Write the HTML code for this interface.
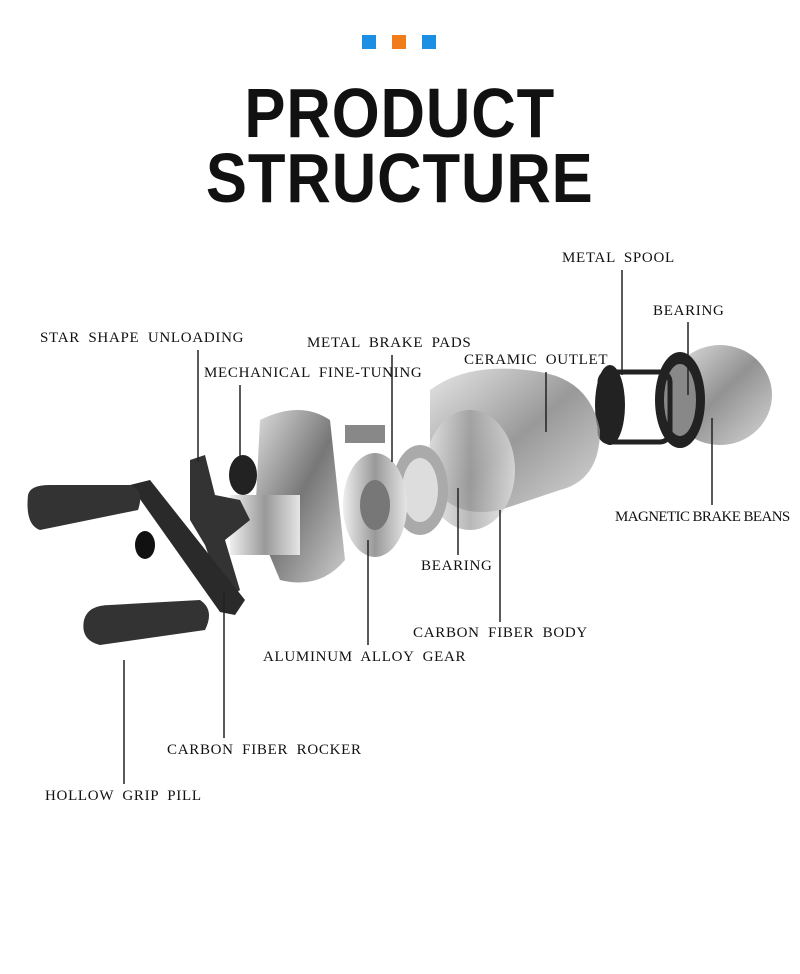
<!DOCTYPE html>
<html><head><meta charset="utf-8"><style>
html,body{margin:0;padding:0;background:#fff;}
#w{position:relative;width:800px;height:974px;overflow:hidden;background:#fff;}
.sq{position:absolute;top:35px;width:14px;height:14px;}
h1{position:absolute;left:0;width:800px;margin:0;text-align:center;font-family:"Liberation Sans",sans-serif;font-weight:bold;font-size:70px;line-height:64px;color:#111;letter-spacing:1px;transform:scaleX(0.88);transform-origin:398px 0;}
.l{position:absolute;font-family:"Liberation Serif",serif;font-size:15px;color:#111;white-space:nowrap;line-height:16px;letter-spacing:0.7px;word-spacing:4px;}
svg{position:absolute;left:0;top:0;}
</style></head><body><div id="w">
<div class="sq" style="left:362px;background:#1a8fe3"></div>
<div class="sq" style="left:392px;background:#f07c1a"></div>
<div class="sq" style="left:422px;background:#1a8fe3"></div>
<h1 style="top:81px">PRODUCT</h1>
<h1 style="top:146px">STRUCTURE</h1>
<svg width="800" height="974">
<defs>
<linearGradient id="g1" x1="0" y1="0" x2="1" y2="1"><stop offset="0" stop-color="#ddd"/><stop offset=".5" stop-color="#777"/><stop offset="1" stop-color="#ccc"/></linearGradient>
<linearGradient id="g2" x1="0" y1="0" x2="1" y2="0"><stop offset="0" stop-color="#eee"/><stop offset=".5" stop-color="#999"/><stop offset="1" stop-color="#e5e5e5"/></linearGradient>
</defs>
<ellipse cx="720" cy="395" rx="52" ry="50" fill="url(#g1)" opacity=".8"/>
<ellipse cx="680" cy="400" rx="25" ry="48" fill="#222"/>
<ellipse cx="680" cy="400" rx="16" ry="36" fill="#888"/>
<rect x="600" y="372" width="70" height="70" rx="10" fill="none" stroke="#222" stroke-width="5"/>
<ellipse cx="610" cy="405" rx="15" ry="40" fill="#222"/>
<path d="M430 390 Q470 360 540 372 Q590 380 600 430 Q600 480 560 490 L500 510 Q450 520 430 480 Z" fill="url(#g1)" opacity=".75"/>
<ellipse cx="470" cy="470" rx="45" ry="60" fill="url(#g2)" opacity=".7"/>
<ellipse cx="420" cy="490" rx="28" ry="45" fill="#aaa"/>
<ellipse cx="420" cy="490" rx="18" ry="32" fill="#ddd"/>
<ellipse cx="375" cy="505" rx="32" ry="52" fill="url(#g2)"/>
<ellipse cx="375" cy="505" rx="15" ry="25" fill="#777"/>
<rect x="345" y="425" width="40" height="18" fill="#888"/>
<path d="M260 420 Q300 400 330 420 L345 560 Q320 590 280 580 L255 520 Z" fill="url(#g1)"/>
<rect x="230" y="495" width="70" height="60" fill="url(#g2)"/>
<ellipse cx="243" cy="475" rx="14" ry="20" fill="#222"/>
<path d="M190 460 L205 455 L215 495 L240 500 L250 520 L225 540 L240 590 L225 600 L205 545 L190 520 Z" fill="#333"/>
<path d="M130 485 L150 480 L245 600 L235 615 L220 612 Z" fill="#2a2a2a"/>
<ellipse cx="145" cy="545" rx="10" ry="14" fill="#111"/>
<path d="M28 495 Q30 485 50 485 L130 485 Q145 490 138 510 L40 530 Q25 525 28 495 Z" fill="#333"/>
<path d="M84 620 Q88 605 110 605 L200 600 Q215 610 205 630 L100 645 Q80 640 84 620 Z" fill="#333"/>
<g stroke="#222" stroke-width="1.5" fill="none">
<line x1="622" y1="270" x2="622" y2="375"/>
<line x1="688" y1="322" x2="688" y2="395"/>
<line x1="198" y1="350" x2="198" y2="462"/>
<line x1="392" y1="355" x2="392" y2="462"/>
<line x1="546" y1="372" x2="546" y2="432"/>
<line x1="240" y1="385" x2="240" y2="462"/>
<line x1="712" y1="505" x2="712" y2="418"/>
<line x1="458" y1="555" x2="458" y2="488"/>
<line x1="500" y1="622" x2="500" y2="510"/>
<line x1="368" y1="645" x2="368" y2="540"/>
<line x1="224" y1="738" x2="224" y2="592"/>
<line x1="124" y1="784" x2="124" y2="660"/>
</g>
</svg>
<div class="l" style="left:562px;top:250px">METAL SPOOL</div>
<div class="l" style="left:653px;top:303px">BEARING</div>
<div class="l" style="left:40px;top:330px">STAR SHAPE UNLOADING</div>
<div class="l" style="left:307px;top:335px">METAL BRAKE PADS</div>
<div class="l" style="left:464px;top:352px">CERAMIC OUTLET</div>
<div class="l" style="left:204px;top:365px">MECHANICAL FINE-TUNING</div>
<div class="l" style="left:615px;top:509px;letter-spacing:-0.6px;word-spacing:0">MAGNETIC BRAKE BEANS</div>
<div class="l" style="left:421px;top:558px">BEARING</div>
<div class="l" style="left:413px;top:625px">CARBON FIBER BODY</div>
<div class="l" style="left:263px;top:649px">ALUMINUM ALLOY GEAR</div>
<div class="l" style="left:167px;top:742px">CARBON FIBER ROCKER</div>
<div class="l" style="left:45px;top:788px">HOLLOW GRIP PILL</div>
</div></body></html>
